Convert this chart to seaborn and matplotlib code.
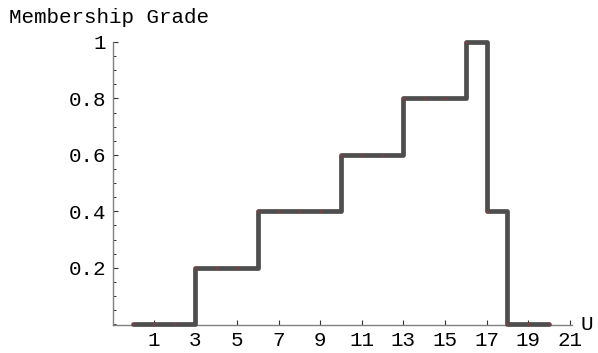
import numpy as np
import pandas as pd
import matplotlib
matplotlib.use("Agg")
import matplotlib.pyplot as plt
import seaborn as sns
from matplotlib.ticker import MultipleLocator, FixedLocator

# Universe of discourse and membership grades of the fuzzy set
u_values = list(range(0, 21))
grades = [0, 0, 0, 0.2, 0.2, 0.2, 0.4, 0.4, 0.4, 0.4,
          0.6, 0.6, 0.6, 0.8, 0.8, 0.8, 1.0, 0.4, 0, 0, 0]
x_ticks = [1, 3, 5, 7, 9, 11, 13, 15, 17, 19, 21]
y_ticks = [0.2, 0.4, 0.6, 0.8, 1.0]
y_tick_labels = ["0.2", "0.4", "0.6", "0.8", "1"]

df = pd.DataFrame({"U": u_values, "grade": grades})

sns.set_theme(style="white")
plt.rcParams["font.family"] = ["Liberation Mono", "DejaVu Sans Mono"]

FS = 15

fig = plt.figure(figsize=(5.98, 3.53), dpi=100)
ax = fig.add_axes([113 / 598, 28 / 353, (572 - 113) / 598, (325 - 42) / 353])

sns.lineplot(data=df, x="U", y="grade", ax=ax, drawstyle="steps-post",
             color="#4e4e4e", linewidth=3.4, clip_on=False, zorder=3)
sns.scatterplot(data=df, x="U", y="grade", ax=ax, color="#b03030",
                s=3, linewidth=0, alpha=0.7, zorder=4, clip_on=False)

ax.set_xlim(-0.96, 21.1)
ax.set_ylim(-0.003, 1.0)

for side in ("top", "right"):
    ax.spines[side].set_visible(False)
for side in ("left", "bottom"):
    ax.spines[side].set_color("#808080")
    ax.spines[side].set_linewidth(1.0)

ax.xaxis.set_major_locator(FixedLocator(x_ticks))
ax.set_xticklabels([str(t) for t in x_ticks])
ax.yaxis.set_major_locator(FixedLocator(y_ticks))
ax.set_yticklabels(y_tick_labels)
ax.yaxis.set_minor_locator(MultipleLocator(0.05))

ax.tick_params(axis="both", which="major", direction="in", length=3.5,
               width=0.8, color="#333333", labelsize=FS, labelcolor="black")
ax.tick_params(axis="y", which="minor", direction="in", length=2,
               width=0.7, color="#333333", left=True)
ax.tick_params(axis="x", which="major", bottom=True, pad=4)
ax.tick_params(axis="y", which="major", left=True, pad=5)

ax.set_xlabel("")
ax.set_ylabel("")

fig.text(9 / 598, 1 - 23 / 353, "Membership Grade", fontsize=FS,
         ha="left", va="baseline", color="black")
fig.text(580 / 598, 1 - 325 / 353, "U", fontsize=FS,
         ha="left", va="center", color="black")

fig.savefig("out.png", dpi=100, facecolor="white")
